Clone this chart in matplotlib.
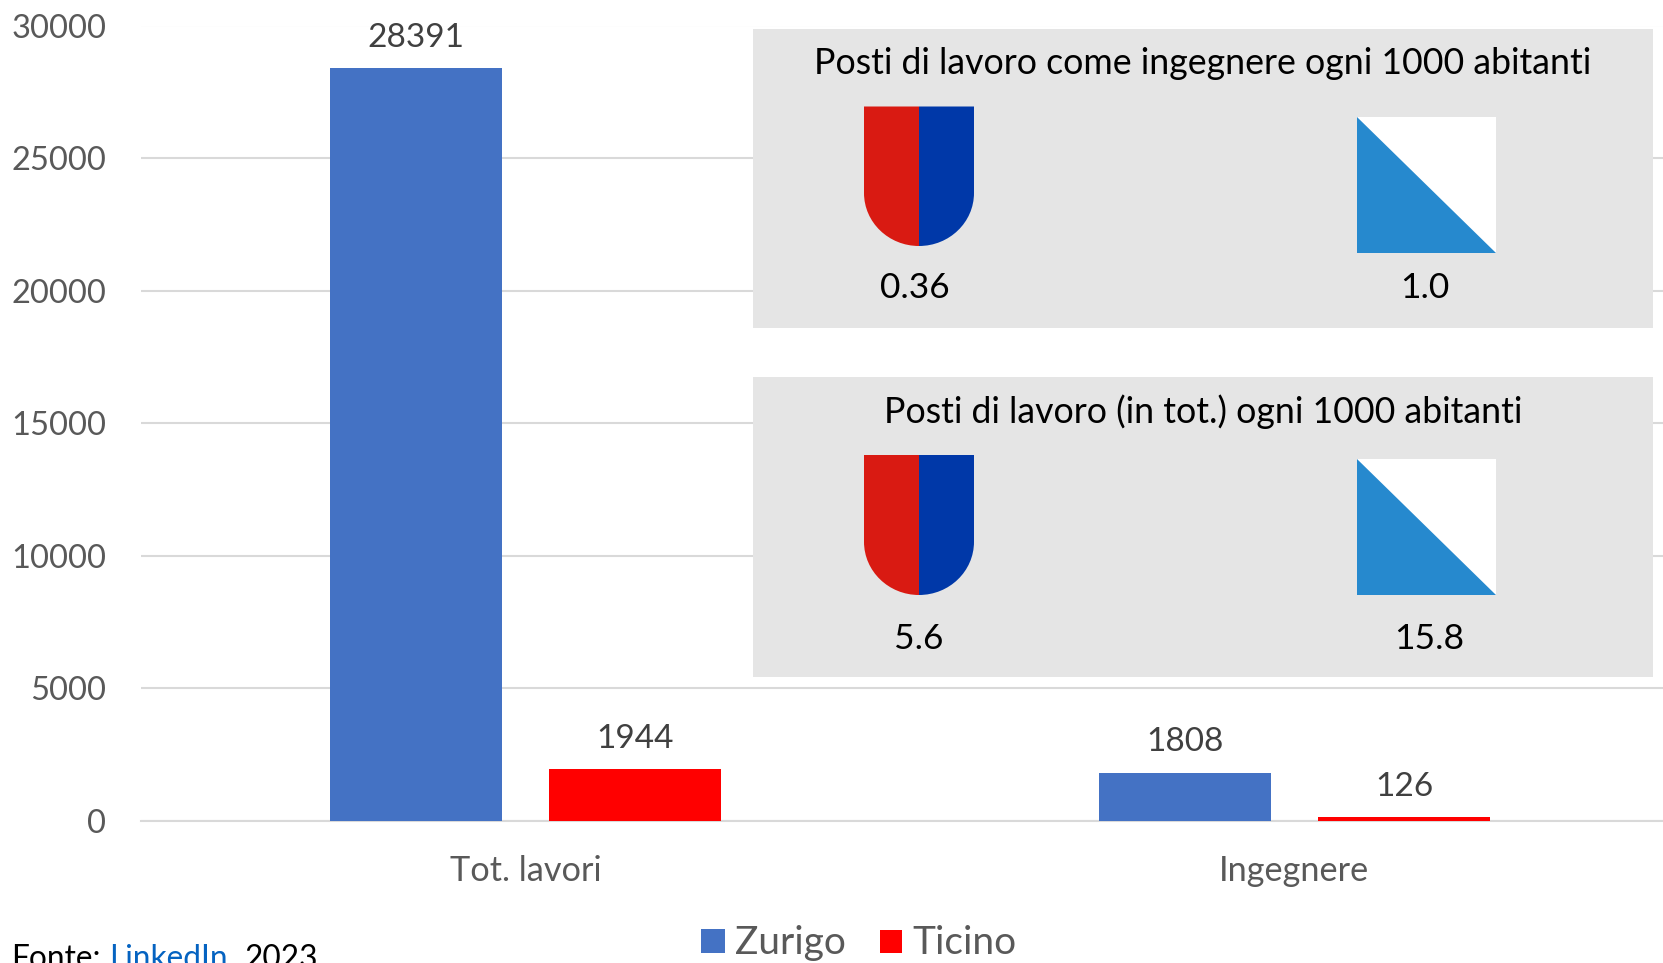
import matplotlib
matplotlib.use("Agg")
import matplotlib.pyplot as plt
from matplotlib.patches import Rectangle, Polygon, PathPatch
from matplotlib.path import Path

plt.rcParams['font.family'] = ['Lato', 'DejaVu Sans']

W, H = 1663, 963

categories = ["Tot. lavori", "Ingegnere"]
zurigo = [28391, 1808]
ticino = [1944, 126]
y_ticks = [0, 5000, 10000, 15000, 20000, 25000, 30000]

panel_titles = ["Posti di lavoro come ingegnere ogni 1000 abitanti",
                "Posti di lavoro (in tot.) ogni 1000 abitanti"]
ticino_rates = ["0.36", "5.6"]
zurigo_rates = ["1.0", "15.8"]

BLUE = "#4472C4"
RED = "#FF0000"
GRID = "#D9D9D9"
GREY = "#595959"
DARK = "#404040"

fig = plt.figure(figsize=(W / 100, H / 100), dpi=100)

# main chart, placed by pixels (the right end runs past the picture)
ax = fig.add_axes([141 / W, 1 - 820.5 / H, 1538 / W, 795 / H])
x = [0, 1]
bar_w = 0.2234
off = 0.1425
b1 = ax.bar([i - off for i in x], zurigo, bar_w, color=BLUE, zorder=3)
b2 = ax.bar([i + off for i in x], ticino, bar_w, color=RED, zorder=3)
ax.set_xlim(-0.5, 1.5)
ax.set_ylim(0, 30000)
ax.set_yticks(y_ticks)
ax.set_xticks(x, categories)
ax.tick_params(axis='both', length=0, labelcolor=GREY)
ax.tick_params(axis='y', labelsize=23.5, pad=25)
ax.tick_params(axis='x', labelsize=24.7, pad=25)
ax.grid(axis='y', color=GRID, lw=1.5, zorder=0)
ax.set_axisbelow(True)
for s in ['top', 'right', 'left']:
    ax.spines[s].set_visible(False)
ax.spines['bottom'].set_color(GRID)
ax.spines['bottom'].set_linewidth(1.5)

ax.bar_label(b1, fontsize=24, color=DARK, padding=11)
ax.bar_label(b2, fontsize=24, color=DARK, padding=11)

# overlay in pixel coordinates for panels, coats of arms, legend and source
ov = fig.add_axes([0, 0, 1, 1], zorder=5)
ov.set_xlim(0, W)
ov.set_ylim(H, 0)
ov.axis('off')


def shield(x0, x1, y0, y1):
    mid = (x0 + x1) / 2
    bend = y0 + (y1 - y0) * 0.62
    k = 0.5523
    rx = mid - x0
    ry = y1 - bend
    left = Path([(x0, y0), (mid, y0), (mid, y1), (mid - k * rx, y1), (x0, bend + k * ry), (x0, bend), (x0, y0)],
                [Path.MOVETO, Path.LINETO, Path.LINETO, Path.CURVE4, Path.CURVE4, Path.CURVE4, Path.CLOSEPOLY])
    right = Path([(x1, y0), (mid, y0), (mid, y1), (mid + k * rx, y1), (x1, bend + k * ry), (x1, bend), (x1, y0)],
                 [Path.MOVETO, Path.LINETO, Path.LINETO, Path.CURVE4, Path.CURVE4, Path.CURVE4, Path.CLOSEPOLY])
    ov.add_patch(PathPatch(left, fc="#D91A12", ec='none'))
    ov.add_patch(PathPatch(right, fc="#0038A8", ec='none'))


def zurich(x0, x1, y0, y1):
    ov.add_patch(Rectangle((x0, y0), x1 - x0, y1 - y0, fc='white', ec='none'))
    ov.add_patch(Polygon([(x0, y0), (x0, y1), (x1, y1)], fc="#2689CE", ec='none'))


panels = [(29, 328.5), (377, 677)]
title_y = [63.5, 412]
shield_y = [(106.5, 246), (455, 595)]
zh_y = [(117, 253.5), (459, 595)]
rate_y = [288, 639]
ti_x = [915, 919]
zh_x = [1425, 1429]
for i in range(2):
    top, bot = panels[i]
    ov.add_patch(Rectangle((753, top), 899.5, bot - top, fc="#E5E5E5", ec='none'))
    ov.text(1203, title_y[i], panel_titles[i], ha='center', va='center', fontsize=25.7, color='black')
    shield(864, 974, *shield_y[i])
    zurich(1356.5, 1495.5, *zh_y[i])
    ov.text(ti_x[i], rate_y[i], ticino_rates[i], ha='center', va='center', fontsize=25.5, color='black')
    ov.text(zh_x[i], rate_y[i], zurigo_rates[i], ha='center', va='center', fontsize=25.5, color='black')

# legend
ov.add_patch(Rectangle((701, 929), 24, 24, fc=BLUE, ec='none'))
ov.add_patch(Rectangle((880, 930), 22, 23, fc=RED, ec='none'))
ov.text(735, 943, "Zurigo", ha='left', va='center', fontsize=28, color=GREY)
ov.text(912, 943, "Ticino", ha='left', va='center', fontsize=28, color=GREY)

# source, runs off the bottom edge like in the original
ov.text(11, 968, "Fonte:", ha='left', va='baseline', fontsize=22.8, color='black')
ov.text(109, 968, "LinkedIn", ha='left', va='baseline', fontsize=22.8, color="#0563C1")
ov.text(225, 968, ",", ha='left', va='baseline', fontsize=22.8, color='black')
ov.text(244, 968, "2023", ha='left', va='baseline', fontsize=22.8, color='black')

fig.savefig("out.png", dpi=100)
